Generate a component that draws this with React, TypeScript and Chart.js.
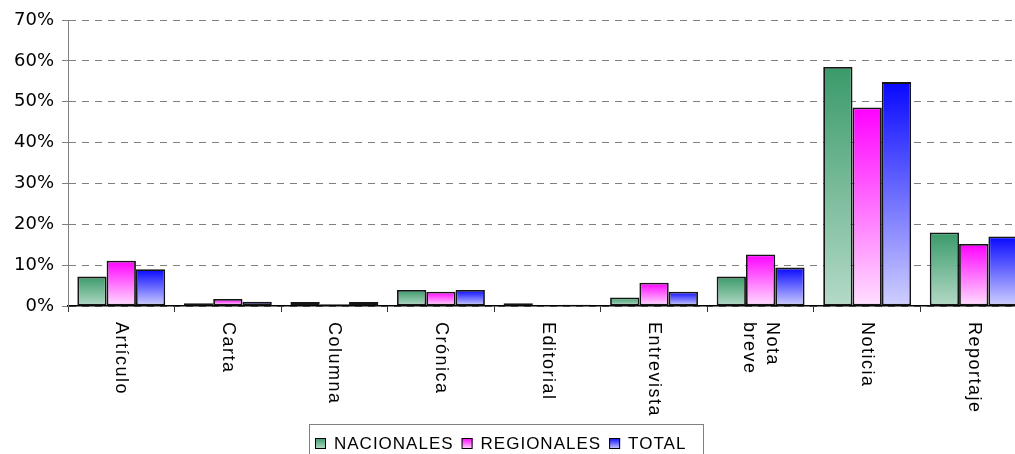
import React, { useEffect, useRef } from "react";
import { Chart, registerables } from "chart.js";

Chart.register(...registerables);

const categories: string[][] = [
  ["Artículo"],
  ["Carta"],
  ["Columna"],
  ["Crónica"],
  ["Editorial"],
  ["Entrevista"],
  ["Nota", "breve"],
  ["Noticia"],
  ["Reportaje"],
];

const nacionales = [7.2, 0.66, 1.0, 3.9, 0.66, 2.1, 7.2, 58.5, 18.0];
const regionales = [11.1, 1.7, 0.4, 3.5, 0, 5.7, 12.6, 48.6, 15.2];
const total = [9.0, 1.05, 1.0, 3.9, 0.3, 3.5, 9.4, 54.8, 17.0];

const seriesNames = ["NACIONALES", "REGIONALES", "TOTAL"];
const yTicks = [0, 10, 20, 30, 40, 50, 60, 70];

const gradStops: [string, string][] = [
  ["#3a9a6a", "#b4dac7"],
  ["#ff00ff", "#ffe0ff"],
  ["#0808ff", "#d0d0ff"],
];

function barGradient(idx: number) {
  return (ctx: any) => {
    const chart = ctx.chart;
    const y = chart.scales?.y;
    if (!y || ctx.raw === undefined) return gradStops[idx][0];
    const top = y.getPixelForValue(ctx.raw);
    const base = y.getPixelForValue(0);
    if (!isFinite(top) || !isFinite(base) || Math.abs(base - top) < 0.5)
      return gradStops[idx][0];
    const g = chart.ctx.createLinearGradient(0, top, 0, base);
    g.addColorStop(0, gradStops[idx][0]);
    g.addColorStop(1, gradStops[idx][1]);
    return g;
  };
}

const labelPlugin = {
  id: "customLabels",
  afterDraw(chart: any) {
    const ctx = chart.ctx as CanvasRenderingContext2D;
    const xs = chart.scales.x;
    ctx.save();
    ctx.fillStyle = "#000";
    ctx.font = '18px "Liberation Sans", Arial, sans-serif';
    (ctx as any).letterSpacing = "1.5px";
    ctx.textAlign = "left";
    ctx.textBaseline = "middle";
    const lh = 23;
    categories.forEach((lines, i) => {
      const x = xs.getPixelForValue(i);
      ctx.save();
      ctx.translate(x, 322);
      ctx.rotate(Math.PI / 2);
      lines.forEach((ln, j) => {
        const off = (j - (lines.length - 1) / 2) * lh;
        ctx.fillText(ln, 0, off);
      });
      ctx.restore();
    });
    ctx.restore();

    // legend
    ctx.save();
    ctx.strokeStyle = "#808080";
    ctx.lineWidth = 1;
    ctx.strokeRect(309.5, 424.5, 394, 40);
    ctx.font = '17px "Liberation Sans", Arial, sans-serif';
    (ctx as any).letterSpacing = "1px";
    ctx.textBaseline = "middle";
    ctx.textAlign = "left";
    let x = 315;
    const cy = 443;
    seriesNames.forEach((name, i) => {
      const g = ctx.createLinearGradient(0, cy - 5, 0, cy + 6);
      g.addColorStop(0, gradStops[i][0]);
      g.addColorStop(1, gradStops[i][1]);
      ctx.fillStyle = g;
      ctx.fillRect(x, cy - 5, 11, 11);
      ctx.strokeStyle = "#000";
      ctx.lineWidth = 1;
      ctx.strokeRect(x + 0.5, cy - 5 + 0.5, 10, 10);
      ctx.fillStyle = "#000";
      ctx.fillText(name, x + 19, cy + 1);
      x += 19 + ctx.measureText(name).width + 8;
    });
    ctx.restore();
  },
};

export default function App() {
  const ref = useRef<HTMLCanvasElement>(null);
  useEffect(() => {
    if (!ref.current) return;
    const mk = (label: string, data: number[], i: number) => ({
      label,
      data,
      backgroundColor: barGradient(i),
      borderColor: "#151515",
      borderWidth: 1.8,
      borderSkipped: false as const,
      categoryPercentage: 0.825,
      barPercentage: 1,
    });
    const chart = new Chart(ref.current, {
      type: "bar",
      data: {
        labels: categories.map((c) => c.join(" ")),
        datasets: [
          mk(seriesNames[0], nacionales, 0),
          mk(seriesNames[1], regionales, 1),
          mk(seriesNames[2], total, 2),
        ],
      },
      options: {
        responsive: false,
        animation: false,
        layout: { padding: { top: 20, right: 3, left: 0, bottom: 0 } },
        plugins: { legend: { display: false }, tooltip: { enabled: false } },
        scales: {
          x: {
            offset: true,
            grid: {
              offset: true,
              drawOnChartArea: false,
              drawTicks: true,
              tickLength: 6,
              tickColor: "#333",
            },
            border: { display: true, color: "#000", width: 1.5 },
            ticks: { display: false },
            afterFit: (s: any) => {
              s.height = 148;
            },
          },
          y: {
            min: 0,
            max: 70,
            afterBuildTicks: (s: any) => {
              s.ticks = yTicks.map((v) => ({ value: v }));
            },
            grid: {
              color: "#808080",
              lineWidth: 1,
              tickBorderDash: [],
              tickColor: "#808080",
              tickLength: 6,
            },
            border: { display: true, color: "#808080", width: 1, dash: [7, 6] },
            ticks: {
              color: "#000",
              padding: 8,
              font: { family: '"DejaVu Sans", Verdana, sans-serif', size: 18 },
              callback: (v: any) => v + "%",
            },
            afterFit: (s: any) => {
              s.width = 68;
            },
          },
        },
      },
      plugins: [labelPlugin],
    });
    return () => chart.destroy();
  }, []);
  return (
    <div
      style={{
        position: "fixed",
        left: 0,
        top: 0,
        width: 1015,
        height: 454,
        overflow: "hidden",
        background: "#fff",
      }}
    >
      <canvas ref={ref} width={1030} height={454} style={{ display: "block" }} />
    </div>
  );
}
